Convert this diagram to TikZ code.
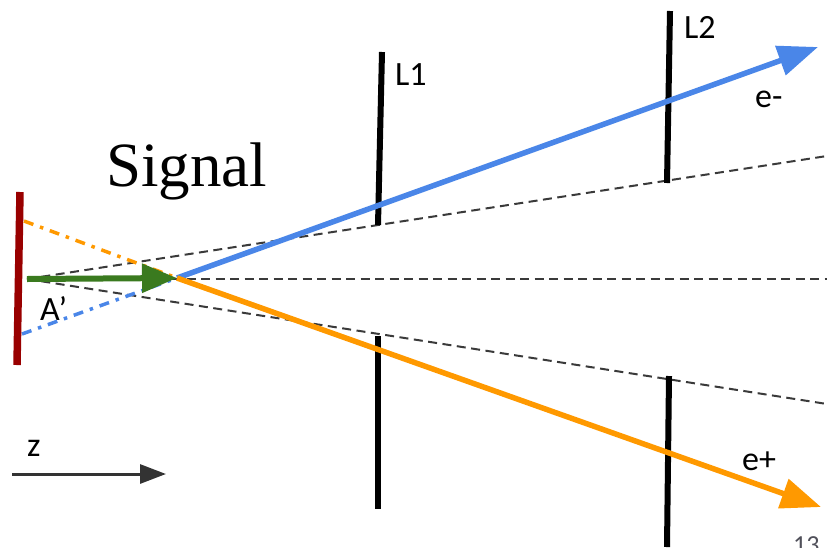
\documentclass[tikz,border=0pt]{standalone}
\usepackage{fontspec}
\setmainfont{Carlito}
\newfontfamily\sigfont{Liberation Serif}
\usetikzlibrary{arrows.meta}
\definecolor{tgtred}{HTML}{990000}
\definecolor{eblue}{HTML}{4A86E8}
\definecolor{porange}{HTML}{FF9900}
\definecolor{agreen}{HTML}{3A7A1F}
\definecolor{dgray}{HTML}{3A3A3A}
\tikzset{
  detector/.style={line width=6pt, black},
  guide/.style={dgray, line width=2pt, dash pattern=on 9pt off 5.5pt},
  dashdot/.style={line width=3.5pt, dash pattern=on 10pt off 7pt on 3.5pt off 7pt},
  track/.style={line width=5.5pt, -{Triangle[length=40pt,width=30pt]}},
  lbl/.style={inner sep=0pt, font=\fontsize{34}{40}\selectfont},
}
\begin{document}
\begin{tikzpicture}[x=1pt,y=-1pt]
\useasboundingbox (0,0) rectangle (827,547);
% coordinates
\coordinate (O) at (27,279);
\coordinate (V) at (177,278);
\coordinate (Gu) at (827,156);
\coordinate (Gm) at (827,279);
\coordinate (Gd) at (827,404);
\coordinate (Ot) at (24,221);
\coordinate (Bt) at (22,334);
\coordinate (Eminus) at (818,47);
\coordinate (Eplus) at (821,507);
\coordinate (T1) at (20,192);
\coordinate (T2) at (17,365);
\coordinate (L1a) at (382,52);
\coordinate (L1b) at (378,225);
\coordinate (L1c) at (378,336);
\coordinate (L1d) at (378,509);
\coordinate (L2a) at (670,11);
\coordinate (L2b) at (667,183);
\coordinate (L2c) at (669,376);
\coordinate (L2d) at (667,547);
\coordinate (Z1) at (12,474);
\coordinate (Z2) at (166,474);
% guide lines
\draw[guide] (O) -- (Gu);
\draw[guide] (O) -- (Gm);
\draw[guide] (O) -- (Gd);
% dash-dot lines
\draw[dashdot, porange] (Ot) -- (V);
\draw[dashdot, eblue] (Bt) -- (V);
% target
\draw[tgtred, line width=7.5pt] (T1) -- (T2);
% detectors
\draw[detector] (L1a) -- (L1b);
\draw[detector] (L1c) -- (L1d);
\draw[detector] (L2a) -- (L2b);
\draw[detector] (L2c) -- (L2d);
% tracks
\draw[track, eblue] (V) -- (Eminus);
\draw[agreen, line width=6pt, -{Triangle[length=35pt,width=28pt]}] (O) -- (V);
\draw[track, porange] (V) -- (Eplus);
% z axis
\draw[line width=3pt, color={rgb,255:red,51;green,51;blue,51}, -{Triangle[length=26pt,width=19pt]}] (Z1) -- (Z2);
% labels
\node[lbl, anchor=base west] (lL1) at (395,85) {L1};
\node[lbl, anchor=base west] (lL2) at (684,38) {L2};
\node[lbl, anchor=base west] (lem) at (755,107) {e-};
\node[lbl, anchor=base west] (lep) at (742,470) {e+};
\node[lbl, anchor=base west] (lA) at (40,320) {A’};
\node[lbl, anchor=base west] (lz) at (27,456) {z};
\node[inner sep=0pt, anchor=base west, font=\sigfont\fontsize{63}{70}\selectfont] (sig) at (106,186) {Signal};
\node[inner sep=0pt, anchor=base west, color={rgb,255:red,80;green,80;blue,90}, font=\fontsize{26}{30}\selectfont] (pg) at (793,553) {13};
\end{tikzpicture}
\end{document}
